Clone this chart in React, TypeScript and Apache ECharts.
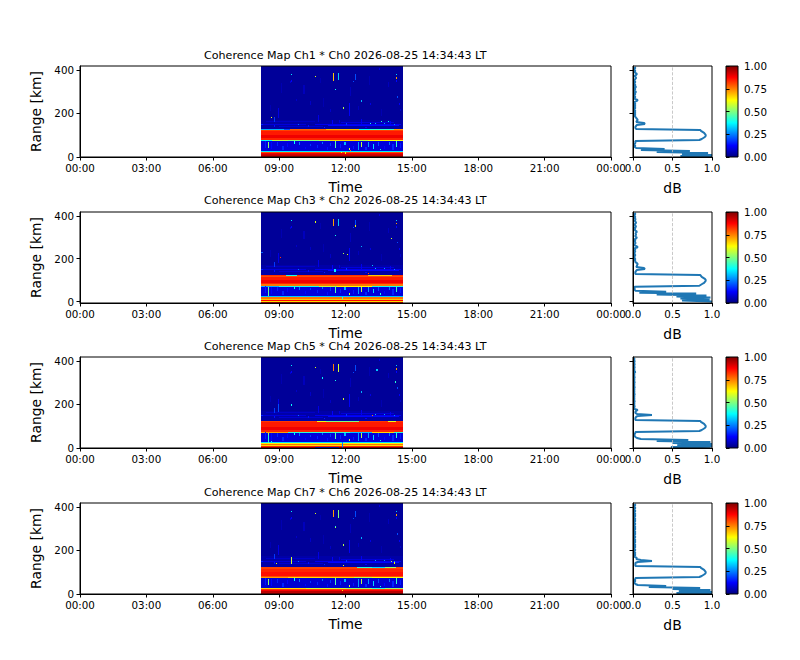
import React, { useEffect, useRef } from 'react'
import * as echarts from 'echarts'

const titles = [
  'Coherence Map Ch1 * Ch0 2026-08-25 14:34:43 LT',
  'Coherence Map Ch3 * Ch2 2026-08-25 14:34:43 LT',
  'Coherence Map Ch5 * Ch4 2026-08-25 14:34:43 LT',
  'Coherence Map Ch7 * Ch6 2026-08-25 14:34:43 LT',
]
const hourTicks = [0, 3, 6, 9, 12, 15, 18, 21, 24]
const rangeTicks = [0, 200, 400]
const coherenceTicks = [0, 0.25, 0.5, 0.75, 1]
const sideTicks = [0, 0.5, 1]
const jetColors = ['#00007f', '#0000ff', '#007fff', '#00ffff', '#7fff7f', '#ffff00', '#ff7f00', '#ff0000', '#7f0000']

// observation window, hours of the day
const startHour = 8.18
const endHour = 14.6
const gateKm = 4.6

// [kmFrom, kmTo, coherence] full width stripes, read bottom to top
const bands1 = [
  [0, 8, 0.94], [8, 14, 0.92], [14, 19, 0.89], [19, 23, 0.8], [23, 29, 0.36], [29, 74, 0.09], [74, 79, 0.55],
  [79, 88, 0.84], [88, 103, 0.89], [103, 118, 0.85], [118, 126, 0.81], [126, 130, 0.78], [130, 172, 0.04], [172, 418, 0.025],
]
const bands2 = [
  [-7, -1, 0.87], [-1, 2, 0.66], [2, 7, 0.87], [7, 11, 0.68], [11, 25, 0.76], [25, 28, 0.32], [28, 68, 0.09], [68, 72, 0.55],
  [72, 80, 0.76], [80, 85, 0.84], [85, 100, 0.89], [100, 113, 0.85], [113, 120, 0.8], [120, 123, 0.83], [123, 172, 0.04], [172, 418, 0.025],
]
const bands3 = [
  [0, 5, 0.9], [5, 9, 0.84], [9, 13, 0.66], [13, 17, 0.76], [17, 24, 0.64], [24, 27, 0.35], [27, 68, 0.09], [68, 72, 0.42],
  [72, 82, 0.84], [82, 98, 0.89], [98, 120, 0.85], [120, 124, 0.82], [124, 172, 0.04], [172, 418, 0.025],
]
const bands4 = [
  [0, 12, 0.94], [12, 21, 0.88], [21, 25, 0.82], [25, 28, 0.52], [28, 72, 0.08], [72, 76, 0.66],
  [76, 84, 0.8], [84, 102, 0.86], [102, 116, 0.84], [116, 126, 0.81], [126, 176, 0.04], [176, 418, 0.025],
]

// [hourFrom, hourTo, kmFrom, kmTo, coherence] stretches where a stripe edge changes
const edges1 = [
  [8.18, 9.2, 126, 130, 0.3], [9.2, 9.5, 126, 130, 0.2], [11.1, 12.6, 126, 130, 0.7], [12.6, 13.1, 125, 130, 0.38], [13.1, 14.2, 125, 130, 0.42],
  [14.2, 14.6, 125, 130, 0.72], [8.18, 8.7, 74, 78, 0.38], [9.4, 10.8, 74, 78, 0.5], [11.3, 12.6, 74, 78, 0.66], [13, 14.6, 74, 78, 0.62],
]
const edges2 = [
  [9.3, 9.8, 120, 123, 0.4], [13, 14.1, 120, 123, 0.68], [8.18, 9, 68, 72, 0.3], [9, 10.8, 68, 72, 0.4], [11.6, 13.2, 68, 72, 0.62], [13.2, 14.6, 68, 72, 0.4],
]
const edges3 = [
  [10.7, 11.1, 121, 124, 0.6], [11.1, 12.6, 121, 124, 0.5], [13.9, 14.3, 121, 124, 0.6], [8.18, 9.4, 68, 72, 0.72], [9.4, 10.2, 68, 72, 0.42],
  [12.2, 13.2, 68, 72, 0.32], [13.2, 14.2, 68, 72, 0.66], [10.6, 11.7, 0, 3, 0.15],
]
const edges4 = [
  [12.5, 13.2, 122, 126, 0.42], [13.2, 13.8, 122, 126, 0.34], [13.8, 14.3, 122, 126, 0.52], [8.18, 9.4, 72, 76, 0.72], [12.4, 13.2, 72, 76, 0.56],
  [13.2, 14.6, 72, 76, 0.62], [8.18, 10.2, 25, 28, 0.66], [10.2, 12, 25, 28, 0.58], [13.2, 13.8, 25, 28, 0.42],
]

// [hour, kmFrom, kmTo, coherence] short bursts seen on most of the channel pairs
const sharedSpecks = [
  [11.67, 352, 386, 0.32], [12.44, 352, 382, 0.2], [12.35, 345, 350, 0.2], [9.52, 375, 381, 0.36], [9.52, 345, 352, 0.12],
  [10.63, 368, 374, 0.6], [14.26, 376, 381, 0.32], [14.26, 360, 366, 0.72], [14.26, 345, 352, 0.13], [11.52, 306, 311, 0.4],
  [12.7, 254, 260, 0.3], [11.9, 222, 228, 0.55], [12.17, 190, 250, 0.12], [8.96, 180, 225, 0.1], [14.31, 272, 278, 0.2],
  [8.78, 160, 185, 0.18], [10.77, 160, 195, 0.1], [12.7, 150, 175, 0.11], [13.5, 400, 408, 0.09], [11.7, 158, 170, 0.09],
  [9.5, 340, 350, 0.08], [10.1, 290, 330, 0.06], [12.2, 280, 320, 0.06], [13.1, 240, 250, 0.1], [14, 150, 165, 0.11],
  [14.4, 240, 250, 0.12], [9.1, 295, 340, 0.05], [13.6, 190, 220, 0.05], [11, 230, 270, 0.05],
  [8.51, 40, 70, 0.52], [9.69, 58, 72, 0.38], [11.52, 42, 72, 0.46], [12.58, 33, 70, 0.28], [12.7, 45, 68, 0.56],
  [13.03, 46, 70, 0.28], [13.26, 38, 60, 0.34], [14.26, 44, 72, 0.42], [13.56, 30, 38, 0.4], [12.15, 30, 42, 0.58],
  [8.35, 40, 72, 0.15], [8.65, 35, 68, 0.13], [8.9, 50, 70, 0.16], [9.15, 32, 50, 0.16], [9.35, 45, 65, 0.13],
  [9.9, 55, 68, 0.24], [10.15, 35, 48, 0.13], [10.4, 52, 62, 0.18], [10.7, 40, 56, 0.16], [10.95, 58, 70, 0.24],
  [11.15, 32, 46, 0.14], [11.3, 50, 66, 0.18], [11.75, 42, 60, 0.16], [11.95, 55, 68, 0.3], [12.32, 36, 52, 0.15],
  [12.9, 32, 44, 0.16], [13.45, 50, 68, 0.2], [13.75, 36, 50, 0.13], [13.95, 55, 70, 0.24], [14.12, 32, 58, 0.16],
  [14.48, 40, 64, 0.15], [8.2, 147, 152, 0.16], [9.85, 146, 150, 0.24],
  [8.75, 140, 146, 0.14], [10.3, 140, 146, 0.14], [11.02, 132, 138, 0.16], [11.4, 150, 172, 0.12], [12.02, 148, 156, 0.18], [12.9, 132, 140, 0.12],
  [13.35, 152, 158, 0.3], [13.72, 150, 156, 0.28], [14.2, 146, 152, 0.26], [8.6, 210, 240, 0.05], [10.4, 240, 256, 0.07], [11.3, 205, 222, 0.07],
  [12.55, 215, 236, 0.06], [13.9, 320, 345, 0.06], [10.85, 340, 365, 0.05], [13.05, 330, 372, 0.05], [9.75, 255, 265, 0.07], [14.45, 210, 222, 0.07],
]
const streaks = [
  [8.2, 10.2, 150, 153, 0.09], [10.6, 14.5, 150, 153, 0.11], [9, 11, 140, 143, 0.08], [11.8, 14.2, 158, 160, 0.09], [8.4, 10.6, 164, 166, 0.07], [11.2, 14.4, 145, 147, 0.13],
]
const specks1 = [[11.45, 350, 386, 0.68], [11.8, 20, 24, 0.62], [11.98, 16, 22, 0.64], [12.2, 26, 30, 0.8], [8.65, 182, 186, 0.6], [13.6, 160, 164, 0.42], [13.1, 152, 156, 0.4], [13.9, 160, 164, 0.38]]
const specks2 = [[11.45, 352, 386, 0.72], [12.44, 350, 356, 0.62], [9.05, 205, 210, 0.82], [14.05, 292, 297, 0.58], [12.05, 218, 224, 0.6], [13.2, 165, 172, 0.32], [8.2, 225, 230, 0.22], [13, 130, 134, 0.8], [11.5, 140, 152, 0.36], [8.5, 25, 68, 0.48], [11.85, 14, 20, 0.42]]
const specks3 = [[11.45, 355, 386, 0.75], [11.67, 350, 386, 0.58], [9.55, 375, 382, 0.36], [13.4, 355, 361, 0.32], [10.95, 318, 324, 0.36], [14.25, 300, 306, 0.42], [11.9, 222, 228, 0.58], [8.96, 165, 200, 0.2], [9.55, 195, 200, 0.38], [13.2, 148, 152, 0.75], [8.5, 25, 58, 0.42], [8.62, 26, 34, 0.38], [11.85, 0, 28, 0.25]]
const specks4 = [[11.45, 352, 386, 0.72], [11.67, 350, 386, 0.5], [9.52, 138, 168, 0.58], [8.85, 138, 142, 0.6], [11.52, 302, 308, 0.55], [14.05, 148, 153, 0.55], [14.2, 140, 146, 0.62], [11.9, 130, 134, 0.62], [11.85, 14, 20, 0.66]]

// mean coherence per range gate, bottom to top
const side1 = [
  1, 0.6, 1, 0.62, 0.95, 0.3, 0.72, 0.1, 0.4, 0.04, 0.02, 0.03, 0.02, 0.02, 0.03, 0.03, 0.03, 0.84, 0.87, 0.89, 0.91, 0.92, 0.92, 0.91, 0.9, 0.88, 0.86, 0.85, 0.04, 0.03,
  0.03, 0.04, 0.05, 0.15, 0.14, 0.04, 0.05, 0.06, 0.05, 0.04, 0.03, 0.02, 0.03, 0.02, 0.03, 0.02, 0.03, 0.02, 0.02, 0.03, 0.02, 0.03, 0.02, 0.03, 0.02, 0.02, 0.05, 0.06, 0.02, 0.02,
  0.03, 0.02, 0.02, 0.03, 0.02, 0.04, 0.02, 0.02, 0.03, 0.02, 0.04, 0.02, 0.03, 0.02, 0.02, 0.03, 0.02, 0.02, 0.03, 0.04, 0.03, 0.02, 0.04, 0.05, 0.03, 0.02, 0.03, 0.02, 0.02, 0.03, 0.02,
]
const side2 = [
  1, 0.62, 0.97, 0.6, 0.98, 0.55, 0.93, 0.3, 0.8, 0.08, 0.42, 0.03, 0.02, 0.02, 0.02, 0.02, 0.84, 0.86, 0.88, 0.9, 0.91, 0.92, 0.92, 0.91, 0.89, 0.87, 0.86, 0.85, 0.03, 0.03,
  0.03, 0.04, 0.05, 0.15, 0.14, 0.04, 0.05, 0.05, 0.06, 0.05, 0.03, 0.03, 0.02, 0.03, 0.02, 0.02, 0.02, 0.03, 0.02, 0.02, 0.02, 0.03, 0.02, 0.03, 0.02, 0.06, 0.05, 0.02, 0.02, 0.03,
  0.03, 0.02, 0.03, 0.02, 0.04, 0.05, 0.03, 0.03, 0.04, 0.03, 0.04, 0.05, 0.03, 0.02, 0.03, 0.02, 0.04, 0.03, 0.02, 0.03, 0.04, 0.03, 0.02, 0.03, 0.03, 0.02, 0.03, 0.02, 0.02, 0.03, 0.02,
]
const side3 = [
  0.98, 0.48, 1, 0.56, 1, 0.5, 0.98, 0.3, 0.7, 0.1, 0.05, 0.03, 0.02, 0.02, 0.02, 0.03, 0.03, 0.84, 0.87, 0.89, 0.91, 0.92, 0.92, 0.91, 0.9, 0.88, 0.86, 0.85, 0.03, 0.03,
  0.03, 0.04, 0.06, 0.24, 0.05, 0.03, 0.03, 0.04, 0.06, 0.02, 0.01, 0.02, 0.02, 0.01, 0.02, 0.01, 0.02, 0.02, 0.01, 0.02, 0.01, 0.02, 0.01, 0.02, 0.02, 0.01, 0.02, 0.01, 0.02, 0.01,
  0.02, 0.02, 0.01, 0.02, 0.01, 0.02, 0.02, 0.01, 0.02, 0.01, 0.02, 0.02, 0.01, 0.02, 0.01, 0.02, 0.03, 0.01, 0.02, 0.01, 0.02, 0.02, 0.01, 0.02, 0.02, 0.01, 0.02, 0.02, 0.01, 0.02, 0.01,
]
const side4 = [
  1, 0.55, 1, 0.58, 0.98, 0.5, 0.85, 0.2, 0.42, 0.06, 0.03, 0.02, 0.02, 0.03, 0.02, 0.03, 0.03, 0.84, 0.87, 0.89, 0.91, 0.92, 0.92, 0.91, 0.9, 0.88, 0.86, 0.85, 0.03, 0.03,
  0.03, 0.03, 0.06, 0.24, 0.1, 0.04, 0.05, 0.02, 0.02, 0.03, 0.02, 0.03, 0.02, 0.02, 0.03, 0.02, 0.02, 0.03, 0.02, 0.03, 0.02, 0.02, 0.03, 0.02, 0.03, 0.02, 0.02, 0.03, 0.02, 0.02,
  0.03, 0.02, 0.03, 0.02, 0.02, 0.03, 0.02, 0.03, 0.02, 0.02, 0.03, 0.02, 0.02, 0.03, 0.02, 0.03, 0.02, 0.02, 0.03, 0.02, 0.03, 0.02, 0.02, 0.03, 0.02, 0.02, 0.03, 0.02, 0.02, 0.03, 0.02,
]

const panelBands = [bands1, bands2, bands3, bands4]
const panelEdges = [edges1, edges2, edges3, edges4]
const panelSpecks = [specks1, specks2, specks3, specks4]
const panelSides = [side1, side2, side3, side4]
const rangeMins = [0, -7, 0, 0]
const rangeMax = 418
const panelTops = [66, 212, 357, 503]
const titleTops = [45, 190, 336, 482]
const panelHeight = 91

const FONT = '"DejaVu Sans", sans-serif'
const TICK_SIZE = 10.3
const speckHours = 0.05

const coherenceColor = (v: number) => echarts.color.lerp(v, jetColors) as string

// one rectangle per patch, snapped to whole pixels so neighbours leave no seam
const renderPatch = (_params: any, api: any) => {
  const a = api.coord([api.value(0), api.value(2)])
  const b = api.coord([api.value(1), api.value(3)])
  const x = Math.round(a[0])
  const y = Math.round(b[1])
  return {
    type: 'rect',
    shape: { x, y, width: Math.max(1, Math.round(b[0]) - x), height: Math.max(1, Math.round(a[1]) - y) },
    style: { fill: coherenceColor(api.value(4)) },
  }
}

const buildPatches = (i: number) => {
  const specks = [...sharedSpecks, ...panelSpecks[i]]
  return [
    ...panelBands[i].map(([k0, k1, v]) => [startHour, endHour, k0, k1, v]),
    ...panelEdges[i],
    ...streaks,
    ...specks.map(([h, k0, k1, v]) => [h, h + speckHours, k0, k1, v]),
  ]
}

const spine = { show: true, onZero: false, lineStyle: { color: '#000', width: 1 } }
const ticks = (customValues: number[]) => ({ show: true, length: 3.5, customValues, lineStyle: { color: '#000', width: 1 } })
const gridBox = (left: number, top: number, width: number) => ({
  left, top, width, height: panelHeight, show: true, borderColor: '#000', borderWidth: 1, backgroundColor: 'transparent', z: 3, containLabel: false,
})

const buildOption = () => {
  const grid: any[] = []
  const xAxis: any[] = []
  const yAxis: any[] = []
  const series: any[] = []
  const title: any[] = []

  panelTops.forEach((top, i) => {
    const base = i * 3
    title.push({
      text: titles[i], left: 199, top: titleTops[i],
      textStyle: { fontFamily: FONT, fontSize: 11.1, fontWeight: 'normal', color: '#000' },
    })

    grid.push(gridBox(80, top, 531), gridBox(633, top, 79), gridBox(726, top, 12))

    // map
    xAxis.push({
      gridIndex: base, type: 'value', min: 0, max: 24, z: 5, name: 'Time', nameLocation: 'middle', nameGap: 23,
      nameTextStyle: { fontFamily: FONT, fontSize: 13.9, color: '#000' },
      axisLine: spine, axisTick: ticks(hourTicks), splitLine: { show: false },
      axisLabel: {
        customValues: hourTicks, fontFamily: FONT, fontSize: TICK_SIZE, color: '#000', margin: 6, hideOverlap: false,
        formatter: (h: number) => `${String(h % 24).padStart(2, '0')}:00`,
      },
    })
    yAxis.push({
      gridIndex: base, type: 'value', min: rangeMins[i], max: rangeMax, name: 'Range [km]', nameLocation: 'middle', nameGap: 37, z: 5,
      nameTextStyle: { fontFamily: FONT, fontSize: 13.9, color: '#000' },
      axisLine: spine, axisTick: ticks(rangeTicks), splitLine: { show: false },
      axisLabel: { customValues: rangeTicks, fontFamily: FONT, fontSize: TICK_SIZE, color: '#000', margin: 6 },
    })
    series.push({
      type: 'custom', xAxisIndex: base, yAxisIndex: base, z: 2, renderItem: renderPatch, data: buildPatches(i),
      encode: { x: [0, 1], y: [2, 3] }, silent: true,
    })

    // mean profile
    xAxis.push({
      gridIndex: base + 1, type: 'value', min: 0, max: 1, z: 5, name: 'dB', nameLocation: 'middle', nameGap: 24,
      nameTextStyle: { fontFamily: FONT, fontSize: 13.9, color: '#000' },
      axisLine: spine, axisTick: ticks(sideTicks), splitLine: { show: false },
      axisLabel: { customValues: sideTicks, fontFamily: FONT, fontSize: TICK_SIZE, color: '#000', margin: 6, formatter: (v: number) => v.toFixed(1) },
    })
    yAxis.push({
      gridIndex: base + 1, type: 'value', min: rangeMins[i], max: rangeMax, z: 5,
      axisLine: spine, axisTick: ticks(rangeTicks), splitLine: { show: false }, axisLabel: { show: false },
    })
    series.push({
      type: 'line', xAxisIndex: base + 1, yAxisIndex: base + 1, z: 2, showSymbol: false, silent: true,
      lineStyle: { color: '#1f77b4', width: 2 },
      data: panelSides[i].map((v, gate) => [v, gate * gateKm]),
      markLine: {
        silent: true, symbol: ['none', 'none'], label: { show: false },
        lineStyle: { color: '#bbbbbb', type: 'dashed', width: 0.8 }, data: [{ xAxis: 0.5 }],
      },
    })

    // colour bar
    xAxis.push({ gridIndex: base + 2, type: 'value', min: 0, max: 1, show: false })
    yAxis.push({
      gridIndex: base + 2, type: 'value', min: 0, max: 1, position: 'right', z: 5,
      axisLine: { show: false }, axisTick: ticks(coherenceTicks), splitLine: { show: false },
      axisLabel: { customValues: coherenceTicks, fontFamily: FONT, fontSize: TICK_SIZE, color: '#000', margin: 6, formatter: (v: number) => v.toFixed(2) },
    })
    series.push({
      type: 'custom', xAxisIndex: base + 2, yAxisIndex: base + 2, z: 2, silent: true, data: [[0, 1, 0, 1]], encode: { x: [0, 1], y: [2, 3] },
      renderItem: (_p: any, api: any) => {
        const a = api.coord([api.value(0), api.value(2)])
        const b = api.coord([api.value(1), api.value(3)])
        return {
          type: 'rect',
          shape: { x: a[0], y: b[1], width: b[0] - a[0], height: a[1] - b[1] },
          style: {
            fill: new echarts.graphic.LinearGradient(0, 1, 0, 0, jetColors.map((color, k) => ({ offset: k / (jetColors.length - 1), color }))),
          },
        }
      },
    })
  })

  return { animation: false, backgroundColor: '#fff', title, grid, xAxis, yAxis, series }
}

const App: React.FC = () => {
  const chartRef = useRef<HTMLDivElement>(null)

  useEffect(() => {
    if (!chartRef.current) return
    document.body.style.margin = '0'
    const chart = echarts.init(chartRef.current, undefined, { renderer: 'svg' })
    chart.setOption(buildOption())
    return () => chart.dispose()
  }, [])

  return <div ref={chartRef} style={{ width: 800, height: 660 }} />
}

export default App
